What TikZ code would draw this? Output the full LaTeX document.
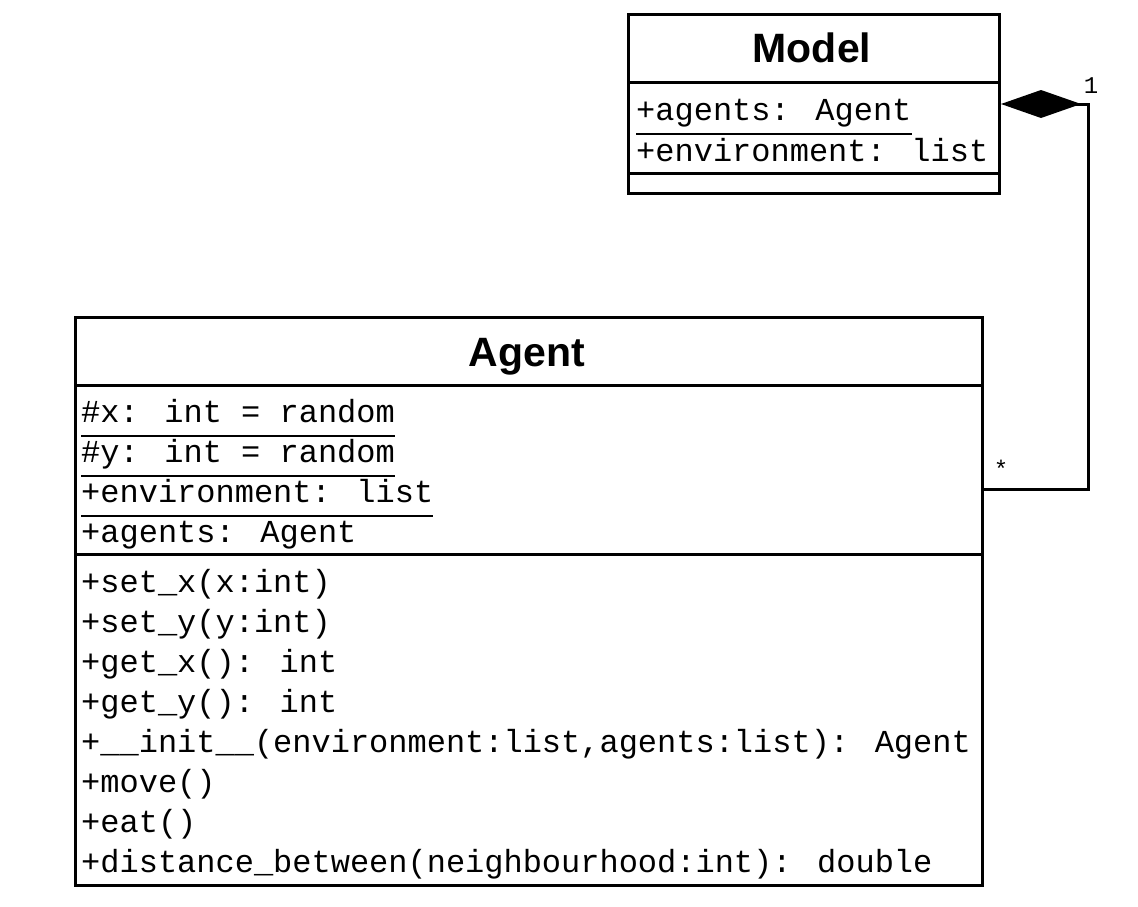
\documentclass[tikz,border=0pt]{standalone}
\usepackage{fontspec}
\usetikzlibrary{arrows.meta}
\newfontfamily\umlmono{Liberation Mono}
\newfontfamily\umltitle{Liberation Sans}
\tikzset{
  classbox/.style={draw, line width=3pt, inner sep=0pt, anchor=north west},
  divider/.style={line width=3pt},
  ulinestyle/.style={line width=1.6pt},
  member/.style={anchor=base west, inner sep=0pt, font=\umlmono\fontsize{32}{38}\selectfont},
  title/.style={anchor=base, inner sep=0pt, font=\umltitle\bfseries\fontsize{41}{48}\selectfont},
  mult/.style={inner sep=0pt, font=\umlmono\fontsize{24}{28}\selectfont},
  assoc/.style={line width=3pt}
}
\begin{document}
\begin{tikzpicture}[x=1pt,y=-1pt]
\useasboundingbox[fill=white] (0,0) rectangle (1138,907);

% Model class
\node[classbox, minimum width=371pt, minimum height=179pt] (model) at (627,13) {};
\node[title] (mtitle) at (812,63) {Model};
\draw[divider] (model.west |- 0,83) -- (model.east |- 0,83);
\node[member] (ma1) at (636,120) {+agents: Agent};
\draw[ulinestyle] ([yshift=-14pt]ma1.base west) -- ([yshift=-14pt]ma1.base east);
\node[member] (ma2) at (636,161) {+environment: list};
\draw[divider] (model.west |- 0,173) -- (model.east |- 0,173);

% Agent class
\node[classbox, minimum width=907pt, minimum height=568pt] (agent) at (74,316) {};
\node[title] (atitle) at (527,366) {Agent};
\draw[divider] (agent.west |- 0,385) -- (agent.east |- 0,385);
\node[member] (aa1) at (81,422) {\#x: int = random};
\draw[ulinestyle] ([yshift=-14pt]aa1.base west) -- ([yshift=-14pt]aa1.base east);
\node[member] (aa2) at (81,462) {\#y: int = random};
\draw[ulinestyle] ([yshift=-14pt]aa2.base west) -- ([yshift=-14pt]aa2.base east);
\node[member] (aa3) at (81,502) {+environment: list};
\draw[ulinestyle] ([yshift=-14pt]aa3.base west) -- ([yshift=-14pt]aa3.base east);
\node[member] (aa4) at (81,542) {+agents: Agent};
\draw[divider] (agent.west |- 0,554) -- (agent.east |- 0,554);

\node[member] (m1) at (81,592) {+set\_x(x:int)};
\node[member] (m2) at (81,632) {+set\_y(y:int)};
\node[member] (m3) at (81,672) {+get\_x(): int};
\node[member] (m4) at (81,712) {+get\_y(): int};
\node[member] (m5) at (81,752) {+\_\_init\_\_(environment:list,agents:list): Agent};
\node[member] (m6) at (81,792) {+move()};
\node[member] (m7) at (81,832) {+eat()};
\node[member] (m8) at (81,872) {+distance\_between(neighbourhood:int): double};

% Composition
\coordinate (turn) at (1088,489);
\draw[assoc, {Diamond[length=80pt,width=28pt]}-] (model.east) -- (model.east -| turn) -- (turn) -- (agent.east |- turn);
\node[mult] (one) at (1091,86) {1};
\node[mult] (many) at (1001,469) {*};
\end{tikzpicture}
\end{document}
